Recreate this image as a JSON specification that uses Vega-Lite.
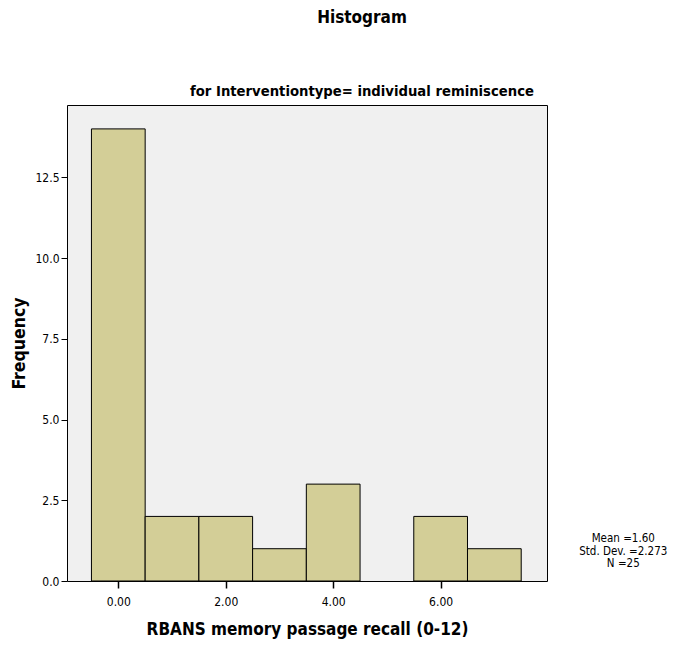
{
  "$schema": "https://vega.github.io/schema/vega-lite/v6.json",
  "width": 480,
  "height": 476,
  "autosize": {"type": "none"},
  "padding": {"left": 67, "top": 105, "right": 143, "bottom": 65},
  "background": "white",
  "config": {
    "font": "DejaVu Sans Condensed, Liberation Sans",
    "view": {"fill": "#f0f0f0", "stroke": "#000000", "strokeWidth": 1}
  },
  "title": {
    "text": "Histogram",
    "subtitle": "for Interventiontype= individual reminiscence",
    "anchor": "middle",
    "frame": "group",
    "dx": 55,
    "offset": 5,
    "fontSize": 17,
    "fontWeight": "bold",
    "font": "DejaVu Sans Condensed, Liberation Sans",
    "color": "#000000",
    "subtitleFontSize": 14.7,
    "subtitleFontWeight": "bold",
    "subtitleFont": "DejaVu Sans Condensed, Liberation Sans",
    "subtitleColor": "#000000",
    "subtitlePadding": 57
  },
  "data": {
    "values": [
      {"x0": -0.5, "x1": 0.5, "count": 14},
      {"x0": 0.5, "x1": 1.5, "count": 2},
      {"x0": 1.5, "x1": 2.5, "count": 2},
      {"x0": 2.5, "x1": 3.5, "count": 1},
      {"x0": 3.5, "x1": 4.5, "count": 3},
      {"x0": 5.5, "x1": 6.5, "count": 2},
      {"x0": 6.5, "x1": 7.5, "count": 1}
    ]
  },
  "layer": [
    {
      "mark": {"type": "bar", "fill": "#d3ce97", "stroke": "#000000", "strokeWidth": 1},
      "encoding": {
        "x": {
          "field": "x0",
          "type": "quantitative",
          "scale": {"domain": [-0.955, 7.98], "nice": false, "zero": false},
          "axis": {
            "title": "RBANS memory passage recall (0-12)",
            "values": [0, 2, 4, 6],
            "format": ".2f",
            "grid": false,
            "domain": false,
            "tickColor": "#000000",
            "tickSize": 7,
            "tickWidth": 1.5,
            "labelFontSize": 12,
            "labelColor": "#000000",
            "labelPadding": 8,
            "titleFontSize": 17,
            "titleFontWeight": "bold",
            "titleColor": "#000000",
            "titlePadding": 14
          }
        },
        "x2": {"field": "x1"},
        "y": {
          "field": "count",
          "type": "quantitative",
          "scale": {"domain": [0, 14.74], "nice": false},
          "axis": {
            "title": "Frequency",
            "values": [0, 2.5, 5, 7.5, 10, 12.5],
            "format": ".1f",
            "grid": false,
            "domain": false,
            "tickColor": "#000000",
            "tickSize": 6,
            "labelFontSize": 12,
            "labelColor": "#000000",
            "labelPadding": 2,
            "titleFontSize": 17.5,
            "titleFontWeight": "bold",
            "titleColor": "#000000",
            "titlePadding": 6
          }
        },
        "y2": {"datum": 0}
      }
    },
    {
      "data": {"values": [{"xs": 9.4, "ys": 1.3, "label": ["Mean =1.60", "Std. Dev. =2.273", "N =25"]}]},
      "mark": {"type": "text", "clip": false, "align": "center", "baseline": "middle", "fontSize": 11.5, "lineHeight": 12.5, "color": "#000000"},
      "encoding": {
        "x": {"field": "xs", "type": "quantitative"},
        "y": {"field": "ys", "type": "quantitative"},
        "text": {"field": "label"}
      }
    }
  ]
}
